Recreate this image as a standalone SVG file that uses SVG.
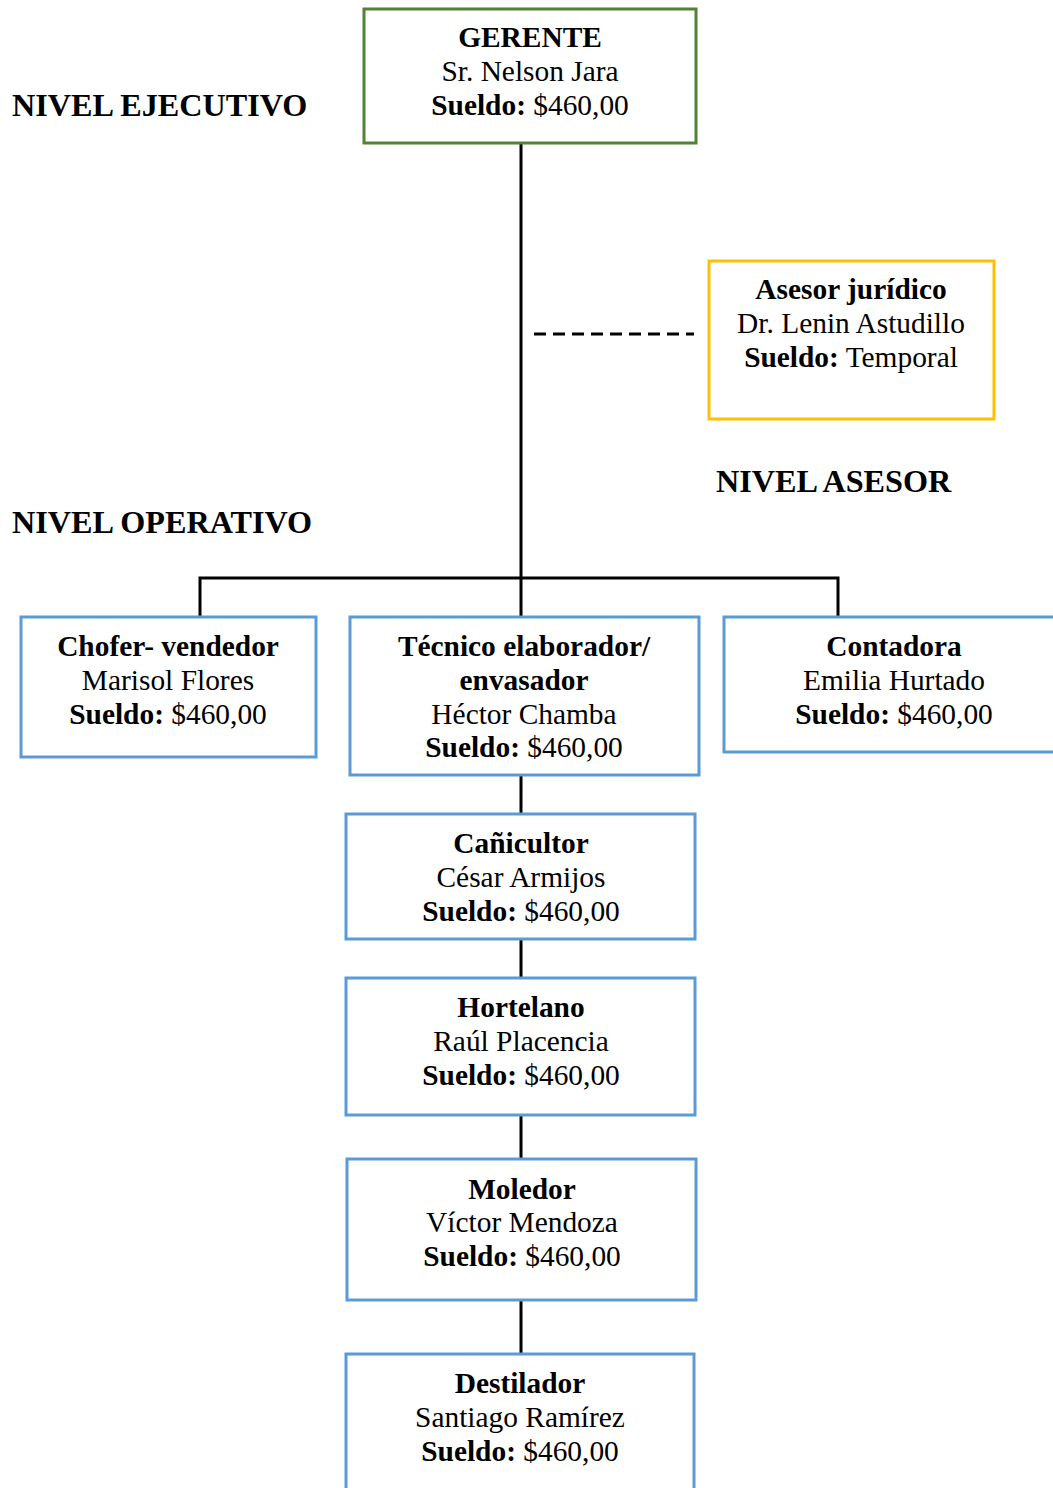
<svg xmlns="http://www.w3.org/2000/svg" width="1053" height="1488" viewBox="0 0 1053 1488">
<style>
text{font-family:"Liberation Serif","Times New Roman",serif;font-size:29.4px;fill:#000;text-anchor:middle}
.b{font-weight:bold}
.lvl{font-weight:bold;font-size:32.2px;text-anchor:start}
.box{fill:#fff;stroke-width:3}
.blue{stroke:#5B9BD5}
.ln{stroke:#000;stroke-width:3;fill:none}
</style>
<rect width="1053" height="1488" fill="#fff"/>
<g id="connectors">
<line class="ln" x1="521" y1="143" x2="521" y2="617"/>
<polyline class="ln" points="200,617 200,578 838,578 838,617"/>
<line class="ln" x1="534" y1="334" x2="694" y2="334" stroke-dasharray="12,7"/>
<line class="ln" x1="521" y1="775" x2="521" y2="814"/>
<line class="ln" x1="521" y1="939" x2="521" y2="978"/>
<line class="ln" x1="521" y1="1115" x2="521" y2="1159"/>
<line class="ln" x1="521" y1="1300" x2="521" y2="1354"/>
</g>
<g id="labels">
<text class="lvl" x="12" y="116">NIVEL EJECUTIVO</text>
<text class="lvl" x="716" y="492">NIVEL ASESOR</text>
<text class="lvl" x="12" y="533">NIVEL OPERATIVO</text>
</g>
<g id="gerente">
<rect class="box" x="364" y="9" width="332" height="134" stroke="#538135"/>
<text x="530" y="47" class="b">GERENTE</text>
<text x="530" y="81">Sr. Nelson Jara</text>
<text x="530" y="115"><tspan class="b">Sueldo:</tspan> $460,00</text>
</g>
<g id="asesor">
<rect class="box" x="709" y="261" width="285" height="158" stroke="#FFC000"/>
<text x="851" y="299" class="b">Asesor jurídico</text>
<text x="851" y="333">Dr. Lenin Astudillo</text>
<text x="851" y="367"><tspan class="b">Sueldo:</tspan> Temporal</text>
</g>
<g id="chofer">
<rect class="box blue" x="21" y="617" width="295" height="140"/>
<text x="168" y="656" class="b">Chofer- vendedor</text>
<text x="168" y="690">Marisol Flores</text>
<text x="168" y="724"><tspan class="b">Sueldo:</tspan> $460,00</text>
</g>
<g id="tecnico">
<rect class="box blue" x="350" y="617" width="349" height="158"/>
<text x="524" y="656" class="b">Técnico elaborador/</text>
<text x="524" y="690" class="b">envasador</text>
<text x="524" y="724">Héctor Chamba</text>
<text x="524" y="757"><tspan class="b">Sueldo:</tspan> $460,00</text>
</g>
<g id="contadora">
<rect class="box blue" x="724" y="617" width="340" height="135"/>
<text x="894" y="656" class="b">Contadora</text>
<text x="894" y="690">Emilia Hurtado</text>
<text x="894" y="724"><tspan class="b">Sueldo:</tspan> $460,00</text>
</g>
<g id="canicultor">
<rect class="box blue" x="346" y="814" width="349" height="125"/>
<text x="521" y="853" class="b">Cañicultor</text>
<text x="521" y="887">César Armijos</text>
<text x="521" y="921"><tspan class="b">Sueldo:</tspan> $460,00</text>
</g>
<g id="hortelano">
<rect class="box blue" x="346" y="978" width="349" height="137"/>
<text x="521" y="1017" class="b">Hortelano</text>
<text x="521" y="1051">Raúl Placencia</text>
<text x="521" y="1085"><tspan class="b">Sueldo:</tspan> $460,00</text>
</g>
<g id="moledor">
<rect class="box blue" x="347" y="1159" width="349" height="141"/>
<text x="522" y="1199" class="b">Moledor</text>
<text x="522" y="1232">Víctor Mendoza</text>
<text x="522" y="1266"><tspan class="b">Sueldo:</tspan> $460,00</text>
</g>
<g id="destilador">
<rect class="box blue" x="346" y="1354" width="348" height="150"/>
<text x="520" y="1393" class="b">Destilador</text>
<text x="520" y="1427">Santiago Ramírez</text>
<text x="520" y="1461"><tspan class="b">Sueldo:</tspan> $460,00</text>
</g>
</svg>
